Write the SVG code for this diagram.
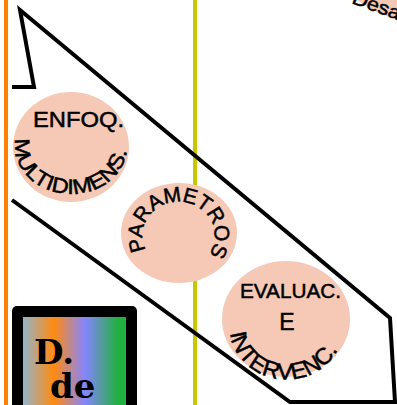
<svg xmlns="http://www.w3.org/2000/svg" width="397" height="405" viewBox="0 0 397 405">
<style>
.bubble{fill:#f5c9b5;stroke:none}
.lbl{font-family:"Liberation Sans","DejaVu Sans",sans-serif;fill:#000;stroke:#000;stroke-width:0.5}
.edge{fill:none;stroke:#000;stroke-width:4;stroke-linejoin:miter}
.deco{font-family:"DejaVu Serif",serif;font-weight:bold;font-size:34px;fill:#000}
</style>
<defs>
<linearGradient id="rainbow" x1="0" y1="0" x2="1" y2="0">
<stop offset="0" stop-color="#93b5cb"/>
<stop offset="0.3" stop-color="#ff8a10"/>
<stop offset="0.6" stop-color="#8585ff"/>
<stop offset="0.92" stop-color="#22b040"/>
<stop offset="1" stop-color="#22b040"/>
</linearGradient>
<path id="arcMulti" d="M15.9,138.8 A56,47 0 1 0 126.2,138.8"/>
<path id="arcParam" d="M146,250 A36,34 0 1 1 211,251"/>
<path id="arcInter" d="M230,333 A57,53 0 0 0 343,334"/>
</defs>
<rect width="397" height="405" fill="#fff"/>
<g id="guides">
<line x1="6" y1="0" x2="6" y2="405" stroke="#ff8000" stroke-width="4"/>
<line x1="195" y1="0" x2="195" y2="405" stroke="#c8c800" stroke-width="4"/>
</g>
<g id="connectors">
<polyline class="edge" points="12,87 34,87 20,10 390,318 395,402 290,402 12,200"/>
</g>
<g id="node-desa">
<ellipse class="bubble" cx="445" cy="-40" rx="110" ry="66"/>
<text class="lbl" font-size="19" transform="translate(351,3) rotate(20)" textLength="50" lengthAdjust="spacingAndGlyphs">Desa</text>
</g>
<g id="node-enfoq">
<ellipse class="bubble" cx="71" cy="147" rx="58" ry="55"/>
<text class="lbl" x="33" y="127" font-size="22" textLength="91" lengthAdjust="spacingAndGlyphs">ENFOQ.</text>
<text class="lbl" font-size="21"><textPath href="#arcMulti" textLength="166" lengthAdjust="spacingAndGlyphs">MULTIDIMENS.</textPath></text>
</g>
<g id="node-param">
<ellipse class="bubble" cx="179" cy="233" rx="58" ry="50"/>
<text class="lbl" font-size="21"><textPath href="#arcParam" textLength="144" lengthAdjust="spacing">PARAMETROS</textPath></text>
</g>
<g id="node-eval">
<ellipse class="bubble" cx="286" cy="319" rx="64" ry="58"/>
<text class="lbl" x="240" y="298" font-size="20" textLength="101" lengthAdjust="spacingAndGlyphs">EVALUAC.</text>
<text class="lbl" x="287" y="330" font-size="23" text-anchor="middle">E</text>
<text class="lbl" font-size="23"><textPath href="#arcInter" textLength="142" lengthAdjust="spacingAndGlyphs">INTERVENC.</textPath></text>
</g>
<g id="node-dde">
<rect x="12" y="306" width="125" height="120" rx="5" fill="#000"/>
<rect x="23" y="317" width="103" height="110" fill="url(#rainbow)"/>
<text class="deco" x="34" y="364">D.</text>
<text class="deco" x="50" y="398">de</text>
</g>
</svg>
